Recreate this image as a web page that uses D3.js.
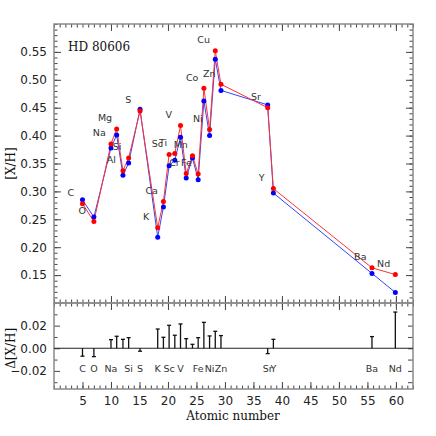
<!DOCTYPE html>
<html>
<head>
<meta charset="utf-8">
<script src="https://cdn.jsdelivr.net/npm/d3@7"></script>
<style>
body { margin: 0; background: #fff; }
</style>
</head>
<body>
<script>
// elements and where their points sit on the atomic-number axis
const elements = ["C","O","Na","Mg","Al","Si","S","K","Ca","Sc","Ti","V","Cr","Mn","Fe","Co","Ni","Cu","Zn","Sr","Y","Ba","Nd"];
const xPos = [5.0,7.0,10.0,11.0,12.1,13.1,15.1,18.2,19.2,20.2,21.2,22.2,23.2,24.3,25.3,26.3,27.3,28.3,29.3,37.5,38.5,55.8,59.9];

// [X/H] for the two series
const redXH  = [0.278,0.246,0.385,0.412,0.337,0.360,0.444,0.235,0.282,0.366,0.368,0.418,0.332,0.364,0.331,0.485,0.411,0.552,0.492,0.450,0.305,0.163,0.151];
const blueXH = [0.285,0.254,0.378,0.401,0.329,0.351,0.447,0.218,0.272,0.346,0.356,0.397,0.324,0.360,0.321,0.462,0.400,0.537,0.481,0.455,0.297,0.153,0.119];

// lower panel: difference
const deltaXH = [-0.0070,-0.0074,0.0076,0.0106,0.0079,0.0094,-0.0026,0.0170,0.0097,0.0203,0.0115,0.0215,0.0085,0.0035,0.0094,0.0229,0.0109,0.0150,0.0112,-0.0047,0.0079,0.0103,0.0320];
const lowerLabel = [1,1,1,0,0,1,1,1,0,1,0,1,0,0,1,0,1,0,1,1,1,1,1];

// tick values
const xMajorBottom = [5,10,15,20,25,30,35,40,45,50,55,60];
const xMajorTop = [10,20,30,40,50,60];
const xMinor = d3.range(0, 64, 1);
const yTopLabels = [0.15,0.20,0.25,0.30,0.35,0.40,0.45,0.50,0.55];
const yTopMinor = d3.range(10, 61, 1).map(d => d / 100);
const yBotLabels = [-0.02, 0.00, 0.02];
const yBotMinor = [-0.03,-0.01,0.01,0.03];

const W = 436, H = 436;
const pLeft = 54, pRight = 413, pTop = 24, pMid = 303, pBottom = 389;

const svg = d3.select("body").append("svg")
  .attr("width", W).attr("height", H)
  .style("font-family", "'DejaVu Sans', sans-serif");

svg.append("rect").attr("width", W).attr("height", H).attr("fill", "#fff");

const x = d3.scaleLinear().domain([0, 63]).range([pLeft, pRight]);
const y = d3.scaleLinear().domain([0.1, 0.6]).range([pMid, pTop]);
const yd = d3.scaleLinear().domain([-0.036, 0.04]).range([pBottom, pMid]);

const tickCol = "#444";
const fmt = d3.format(".2f");

function styleAxis(g) {
  g.select(".domain").remove();
  g.selectAll(".tick line").attr("stroke", tickCol).attr("stroke-width", 1);
  g.selectAll(".tick text").attr("fill", "#222").style("font-size", "12px")
    .style("font-family", "'DejaVu Sans', sans-serif");
}

// ---- upper panel axes
svg.append("g").attr("transform", `translate(${pLeft},0)`)
  .call(d3.axisLeft(y).tickValues(yTopMinor).tickSize(-3.5).tickFormat("")).call(styleAxis);
svg.append("g").attr("transform", `translate(${pLeft},0)`)
  .call(d3.axisLeft(y).tickValues(yTopLabels).tickSize(-7).tickPadding(7).tickFormat(fmt)).call(styleAxis);
svg.append("g").attr("transform", `translate(${pRight},0)`)
  .call(d3.axisRight(y).tickValues(yTopMinor).tickSize(-3.5).tickFormat("")).call(styleAxis);
svg.append("g").attr("transform", `translate(${pRight},0)`)
  .call(d3.axisRight(y).tickValues(yTopLabels).tickSize(-7).tickFormat("")).call(styleAxis);
svg.append("g").attr("transform", `translate(0,${pTop})`)
  .call(d3.axisTop(x).tickValues(xMinor).tickSize(-3.5).tickFormat("")).call(styleAxis);
svg.append("g").attr("transform", `translate(0,${pTop})`)
  .call(d3.axisTop(x).tickValues(xMajorTop).tickSize(-7).tickFormat("")).call(styleAxis);
// shared border: ticks up into the upper panel and down into the lower one
[-1, 1].forEach(dir => {
  svg.append("g").attr("transform", `translate(0,${pMid})`)
    .call(d3.axisBottom(x).tickValues(xMinor).tickSize(3.5 * dir).tickFormat("")).call(styleAxis);
  svg.append("g").attr("transform", `translate(0,${pMid})`)
    .call(d3.axisBottom(x).tickValues(xMajorTop).tickSize(7 * dir).tickFormat("")).call(styleAxis);
});

// ---- lower panel axes
svg.append("g").attr("transform", `translate(${pLeft},0)`)
  .call(d3.axisLeft(yd).tickValues(yBotMinor).tickSize(-3.5).tickFormat("")).call(styleAxis);
svg.append("g").attr("transform", `translate(${pLeft},0)`)
  .call(d3.axisLeft(yd).tickValues(yBotLabels).tickSize(-6).tickPadding(7).tickFormat(fmt)).call(styleAxis);
svg.append("g").attr("transform", `translate(${pRight},0)`)
  .call(d3.axisRight(yd).tickValues(yBotMinor.concat(yBotLabels)).tickSize(-5).tickFormat("")).call(styleAxis);
svg.append("g").attr("transform", `translate(0,${pBottom})`)
  .call(d3.axisBottom(x).tickValues(xMinor).tickSize(-3.5).tickFormat("")).call(styleAxis);
svg.append("g").attr("transform", `translate(0,${pBottom})`)
  .call(d3.axisBottom(x).tickValues(xMajorBottom).tickSize(-7).tickPadding(7).tickFormat(d3.format("d"))).call(styleAxis);

// frames
svg.append("rect").attr("x", pLeft).attr("y", pTop).attr("width", pRight - pLeft).attr("height", pMid - pTop)
  .attr("fill", "none").attr("stroke", "#8a8a8a").attr("stroke-width", 1.5);
svg.append("rect").attr("x", pLeft).attr("y", pMid).attr("width", pRight - pLeft).attr("height", pBottom - pMid)
  .attr("fill", "none").attr("stroke", "#8a8a8a").attr("stroke-width", 1.5);

// ---- upper panel data
const idx = d3.range(elements.length);
const series = [
  {vals: blueXH, col: "#0000ff", line: "#3344ff"},
  {vals: redXH,  col: "#ff0000", line: "#ff3333"}
];
series.forEach(s => {
  svg.append("path").datum(idx)
    .attr("fill", "none").attr("stroke", s.line).attr("stroke-width", 1)
    .attr("d", d3.line().x(i => x(xPos[i])).y(i => y(s.vals[i])));
});
series.forEach(s => {
  svg.append("g").selectAll("circle").data(idx).join("circle")
    .attr("cx", i => x(xPos[i])).attr("cy", i => y(s.vals[i]))
    .attr("r", 2.5).attr("fill", s.col);
});

// element labels: two units left of the point, a bit above the red value
svg.append("g").selectAll("text").data(idx).join("text")
  .attr("x", i => x(xPos[i] - 2.05)).attr("y", i => y(redXH[i] + 0.02))
  .attr("text-anchor", "middle").attr("dominant-baseline", "central")
  .style("font-size", "9.5px").attr("fill", "#333")
  .text(i => elements[i]);

svg.append("text").attr("x", 68).attr("y", 47).attr("dominant-baseline", "central")
  .style("font-family", "'DejaVu Serif', serif").style("font-size", "12px").attr("fill", "#111")
  .text("HD 80606");

// ---- lower panel data
svg.append("line").attr("x1", pLeft).attr("x2", pRight).attr("y1", yd(0)).attr("y2", yd(0))
  .attr("stroke", "#222").attr("stroke-width", 1);
const bars = svg.append("g").attr("stroke", "#111").attr("stroke-width", 1.3);
bars.selectAll("line.bar").data(idx).join("line").attr("class", "bar")
  .attr("x1", i => x(xPos[i])).attr("x2", i => x(xPos[i]))
  .attr("y1", yd(0)).attr("y2", i => yd(deltaXH[i]));
bars.selectAll("line.cap").data(idx).join("line").attr("class", "cap")
  .attr("x1", i => x(xPos[i]) - 2).attr("x2", i => x(xPos[i]) + 2)
  .attr("y1", i => yd(deltaXH[i])).attr("y2", i => yd(deltaXH[i]));

svg.append("g").selectAll("text").data(idx.filter(i => lowerLabel[i])).join("text")
  .attr("x", i => x(xPos[i])).attr("y", yd(-0.0175))
  .attr("text-anchor", "middle").attr("dominant-baseline", "central")
  .style("font-size", "9.5px").attr("fill", "#333")
  .text(i => elements[i]);

// ---- axis titles
svg.append("text").attr("transform", `translate(11,${(pTop + pMid) / 2}) rotate(-90)`)
  .attr("text-anchor", "middle").attr("dominant-baseline", "central")
  .style("font-family", "'DejaVu Serif', serif").style("font-size", "12px").attr("fill", "#111")
  .text("[X/H]");
svg.append("text").attr("transform", `translate(11,${yd(0)}) rotate(-90)`)
  .attr("text-anchor", "middle").attr("dominant-baseline", "central")
  .style("font-family", "'DejaVu Serif', serif").style("font-size", "12px").attr("fill", "#111")
  .text("Δ[X/H]");
svg.append("text").attr("x", 233).attr("y", 416)
  .attr("text-anchor", "middle").attr("dominant-baseline", "central")
  .style("font-family", "'DejaVu Serif', serif").style("font-size", "12px").attr("fill", "#111")
  .text("Atomic number");
</script>
</body>
</html>
